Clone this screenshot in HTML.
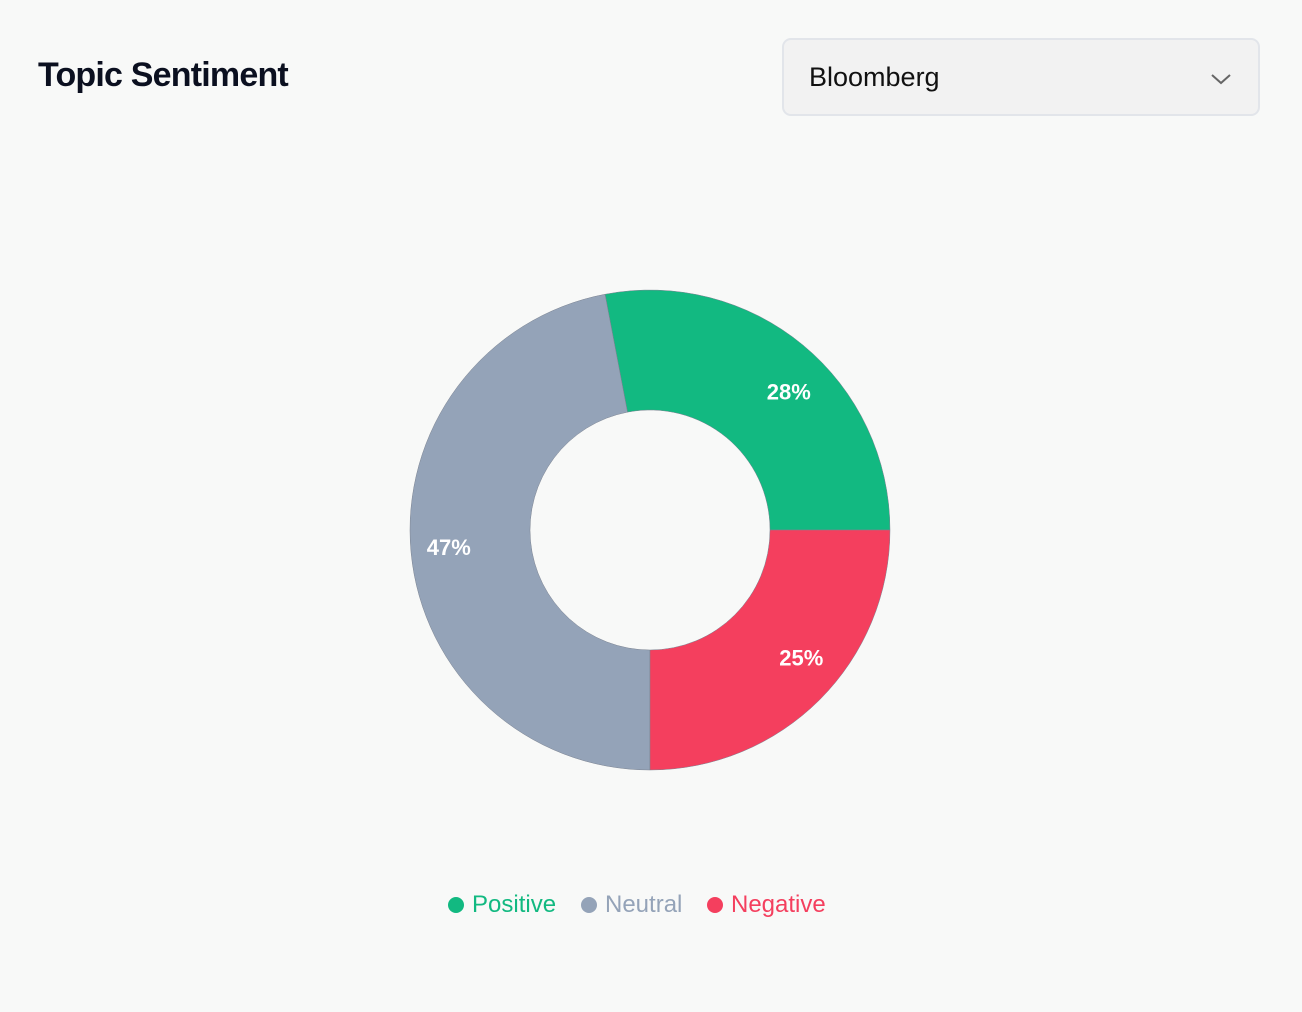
<!DOCTYPE html>
<html><head><meta charset="utf-8"><style>
html,body{margin:0;padding:0;background:#f8f9f8;width:1302px;height:1012px;overflow:hidden;font-family:"Liberation Sans",sans-serif;}
.title{position:absolute;left:38px;top:56px;font-size:34px;font-weight:bold;color:#0b1020;letter-spacing:-0.8px;}
.dd{position:absolute;left:782px;top:38px;width:478px;height:78px;box-sizing:border-box;background:#f2f2f2;border:2px solid #e2e5ea;border-radius:9px;}
.dd span{position:absolute;left:25px;top:22px;font-size:27px;color:#111;}
.dd svg{position:absolute;left:426px;top:32px;}
</style></head><body>
<div class="title">Topic Sentiment</div>
<div class="dd"><span>Bloomberg</span>
<svg width="22" height="14"><path d="M2 3 L11 11 L20 3" fill="none" stroke="#666" stroke-width="2"/></svg></div>
<svg id="chart" width="1302" height="1012" style="position:absolute;left:0;top:0"></svg>
<script>
const categories=["Positive","Neutral","Negative"];
const values=[28,47,25];
const colors=["#12b981","#94a3b8","#f43f5e"];
const NS="http://www.w3.org/2000/svg";
const svg=document.getElementById('chart');
const cx=650,cy=530,R=240,r=120;
const total=values.reduce((a,b)=>a+b,0);
function pt(rad,a){return [cx+rad*Math.cos(a),cy-rad*Math.sin(a)];}
let start=0;
values.forEach((v,i)=>{
  const sweep=v/total*2*Math.PI, end=start+sweep;
  const [x1,y1]=pt(R,start),[x2,y2]=pt(R,end),[x3,y3]=pt(r,end),[x4,y4]=pt(r,start);
  const large=sweep>Math.PI?1:0;
  const p=document.createElementNS(NS,'path');
  p.setAttribute('d',`M${x1} ${y1} A${R} ${R} 0 ${large} 0 ${x2} ${y2} L${x3} ${y3} A${r} ${r} 0 ${large} 1 ${x4} ${y4} Z`);
  p.setAttribute('fill',colors[i]);p.setAttribute('stroke','#7a8290');p.setAttribute('stroke-width','0.5');
  
  
  svg.appendChild(p);
  const mid=start+sweep/2;const [lx,ly]=pt(180,mid);
  const t=document.createElementNS(NS,'text');
  t.setAttribute('x',Math.cos(mid)>=0?lx+2:lx);t.setAttribute('y',ly+8);
  t.setAttribute('text-anchor',Math.cos(mid)>=0?'start':'end');
  t.setAttribute('fill','#fff');t.setAttribute('font-size','22');t.setAttribute('font-weight','bold');
  t.setAttribute('font-family','Liberation Sans, sans-serif');
  t.textContent=Math.round(v/total*100)+'%';
  
  
  svg.appendChild(t);
  start=end;
});
const legendX=[456,589,715];
categories.forEach((c,i)=>{
  const g=document.createElementNS(NS,'g');
  
  
  const d=document.createElementNS(NS,'circle');
  d.setAttribute('cx',legendX[i]);d.setAttribute('cy',905);d.setAttribute('r',8);d.setAttribute('fill',colors[i]);
  const t=document.createElementNS(NS,'text');
  t.setAttribute('x',legendX[i]+16);t.setAttribute('y',912);t.setAttribute('fill',colors[i]);
  t.setAttribute('font-size','24');t.setAttribute('font-family','Liberation Sans, sans-serif');
  t.textContent=c;
  g.appendChild(d);g.appendChild(t);svg.appendChild(g);
});
</script>
</body></html>
